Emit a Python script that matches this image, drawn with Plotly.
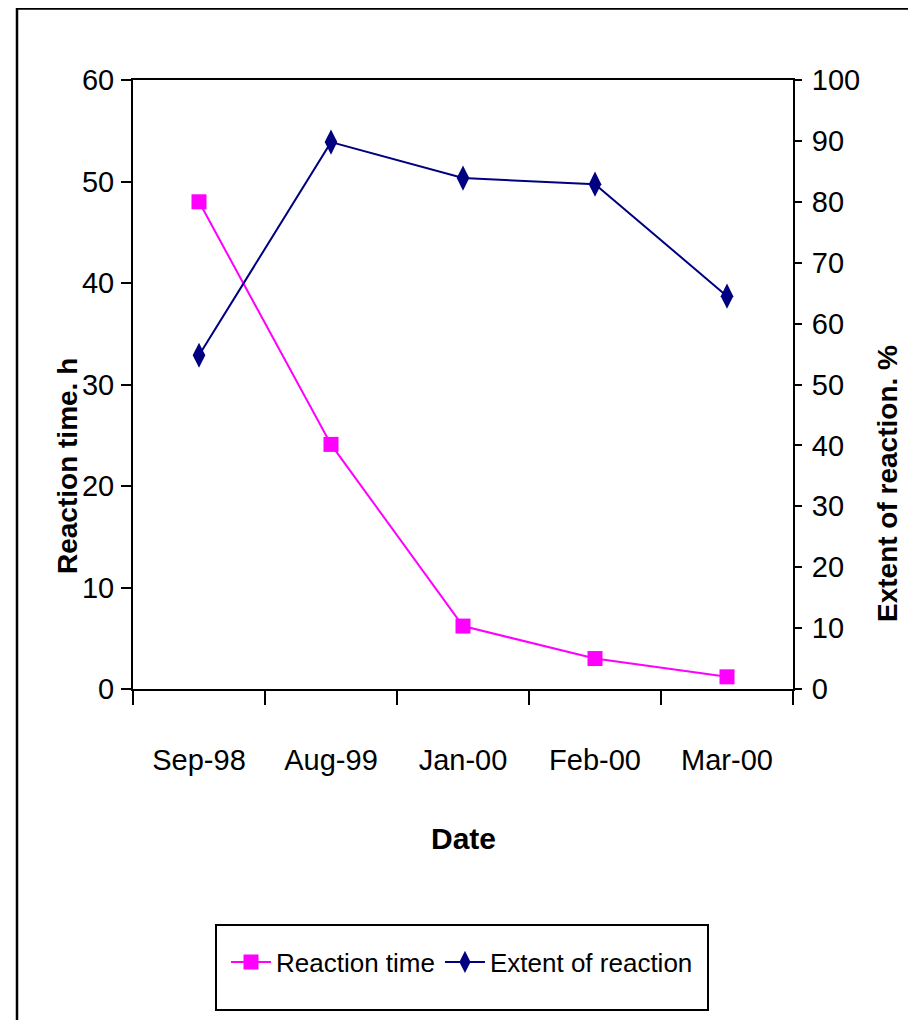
import plotly.graph_objects as go

categories = ["Sep-98", "Aug-99", "Jan-00", "Feb-00", "Mar-00"]
reaction_time = [48, 24.1, 6.2, 3.0, 1.2]
extent_of_reaction = [54.8, 89.8, 83.9, 82.9, 64.5]

left_ticks = [0, 10, 20, 30, 40, 50, 60]
right_ticks = [0, 10, 20, 30, 40, 50, 60, 70, 80, 90, 100]

FONT = "Liberation Sans, Arial, sans-serif"
OFF = 8  # page body margin
W, H = 916 - OFF, 1020 - OFF
# plot area in page coordinates: x 133..793, y 80..689
L, T = 133 - OFF, 80 - OFF
R, B = W - (793 - OFF), H - (689 - OFF)
PW, PH = W - L - R, H - T - B

def px(x):
    return (x - OFF - L) / PW

def py(y):
    return (H - B - (y - OFF)) / PH

fig = go.Figure()
fig.add_trace(go.Scatter(
    x=categories, y=reaction_time, name="Reaction time", mode="lines+markers",
    line=dict(color="#FF00FF", width=2),
    marker=dict(symbol="square", size=15, color="#FF00FF"),
    xaxis="x", yaxis="y"))
fig.add_trace(go.Scatter(
    x=categories, y=extent_of_reaction, name="Extent of reaction", mode="lines+markers",
    line=dict(color="#000080", width=2),
    marker=dict(symbol="diamond-tall", size=18, color="#000080"),
    xaxis="x", yaxis="y2"))

boundaries = [i - 0.5 for i in range(len(categories) + 1)]
TS = 29

fig.update_layout(
    width=W, height=H,
    margin=dict(l=L, r=R, t=T, b=B, pad=0),
    paper_bgcolor="white", plot_bgcolor="white",
    font=dict(family=FONT, size=TS, color="black"),
    showlegend=True,
    legend=dict(orientation="h", x=px(462), xanchor="center", y=py(962), yanchor="middle",
                borderwidth=0, bgcolor="rgba(0,0,0,0)",
                font=dict(family=FONT, size=26), itemwidth=40),
    xaxis=dict(type="category", categoryorder="array", categoryarray=categories,
               range=[-0.5, len(categories) - 0.5],
               showline=True, linecolor="black", linewidth=2, mirror=True,
               ticks="outside", ticklen=14, tickwidth=2, tickcolor="black",
               tickson="boundaries", showgrid=False, zeroline=False,
               ticklabelstandoff=44, tickfont=dict(size=TS)),
    xaxis2=dict(overlaying="x", range=[-0.5, len(categories) - 0.5],
                tickmode="array", tickvals=boundaries, showticklabels=False,
                ticks="inside", ticklen=14, tickwidth=2, tickcolor="black",
                showline=False, showgrid=False, zeroline=False, anchor="y"),
    yaxis=dict(range=[0, 60], tickmode="array", tickvals=left_ticks,
               showline=True, linecolor="black", linewidth=2,
               ticks="outside", ticklen=10, tickwidth=2, tickcolor="black",
               showgrid=False, zeroline=False, ticklabelstandoff=1,
               tickfont=dict(size=TS)),
    yaxis3=dict(overlaying="y", side="left", range=[0, 60], tickmode="array",
                tickvals=left_ticks, showticklabels=False,
                ticks="inside", ticklen=7, tickwidth=2, tickcolor="black",
                showline=False, showgrid=False, zeroline=False, anchor="x"),
    yaxis2=dict(overlaying="y", side="right", range=[0, 100], tickmode="array",
                tickvals=right_ticks, anchor="x",
                showline=True, linecolor="black", linewidth=2,
                ticks="outside", ticklen=7, tickwidth=2, tickcolor="black",
                showgrid=False, zeroline=False, ticklabelstandoff=4,
                tickfont=dict(size=TS)),
    yaxis4=dict(overlaying="y", side="right", range=[0, 100], tickmode="array",
                tickvals=right_ticks, showticklabels=False, anchor="x",
                ticks="inside", ticklen=7, tickwidth=2, tickcolor="black",
                showline=False, showgrid=False, zeroline=False),
)

fig.add_annotation(text="<b>Reaction time. h</b>", xref="paper", yref="paper",
                   x=px(67), y=py(466), textangle=-90, showarrow=False,
                   xanchor="center", yanchor="middle", font=dict(family=FONT, size=28))
fig.add_annotation(text="<b>Extent of reaction. %</b>", xref="paper", yref="paper",
                   x=px(887), y=py(484), textangle=-90, showarrow=False,
                   xanchor="center", yanchor="middle", font=dict(family=FONT, size=28))
fig.add_annotation(text="<b>Date</b>", xref="paper", yref="paper",
                   x=px(463), y=py(838), showarrow=False,
                   xanchor="center", yanchor="middle", font=dict(family=FONT, size=30))

# outer chart frame (right and bottom edges lie outside the picture)
fig.add_shape(type="rect", xref="paper", yref="paper",
              x0=px(17), y0=py(8.5), x1=px(940), y1=py(1040),
              line=dict(color="black", width=2.5), fillcolor="rgba(0,0,0,0)", layer="below")
# legend frame
fig.add_shape(type="rect", xref="paper", yref="paper",
              x0=px(216), y0=py(925), x1=px(708), y1=py(1010),
              line=dict(color="black", width=2), fillcolor="rgba(0,0,0,0)", layer="below")

fig.write_html("out.html")
